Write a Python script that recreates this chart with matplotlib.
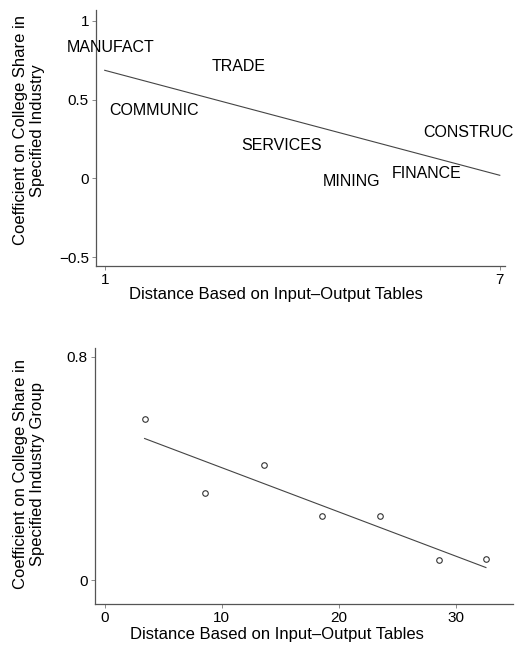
import numpy as np
import matplotlib
matplotlib.use("Agg")
import matplotlib.pyplot as plt

plt.rcParams["font.family"] = ["Liberation Sans", "DejaVu Sans"]

# top panel: industry labels placed at (distance, coefficient)
industries = ["MANUFACT", "TRADE", "COMMUNIC", "SERVICES", "MINING", "FINANCE", "CONSTRUC"]
ind_dist = [1.09, 3.03, 1.75, 3.69, 4.75, 5.89, 6.52]
ind_coef = [0.83, 0.71, 0.43, 0.21, -0.02, 0.03, 0.29]
top_fit_x = [1, 7]
top_fit_y = [0.686, 0.02]

# bottom panel: industry groups binned by distance
grp_dist = [3.4, 8.6, 13.6, 18.6, 23.5, 28.6, 32.6]
grp_coef = [0.577, 0.312, 0.412, 0.228, 0.228, 0.072, 0.076]
bot_fit_x = [3.4, 32.6]
bot_fit_y = [0.507, 0.045]

XLAB = "Distance Based on Input\u2013Output Tables"
FS = 11
LFS = 12


def style(ax):
    for s in ["top", "right"]:
        ax.spines[s].set_visible(False)
    for s in ["left", "bottom"]:
        ax.spines[s].set_color("#555555")
        ax.spines[s].set_linewidth(0.9)
    ax.tick_params(direction="out", length=3, width=0.6, color="#777777",
                   labelsize=FS, pad=2)


fig = plt.figure(figsize=(5.18, 6.51), dpi=100)

ax1 = fig.add_axes([0.185, 0.591, 0.79, 0.394])
for name, x, y in zip(industries, ind_dist, ind_coef):
    ax1.text(x, y, name, ha="center", va="center", fontsize=11.5)
ax1.plot(top_fit_x, top_fit_y, color="#444444", lw=0.8)
ax1.set_xlim(0.865, 7.08)
ax1.set_ylim(-0.557, 1.07)
ax1.set_xticks([1, 7])
ax1.set_yticks([-0.5, 0, 0.5, 1])
ax1.set_yticklabels(["\u22120.5", "0", "0.5", "1"])
ax1.set_xlabel(XLAB, fontsize=LFS, labelpad=1)
ax1.xaxis.set_label_coords(0.44, -0.08)
ax1.set_ylabel("Coefficient on College Share in\nSpecified Industry", fontsize=LFS)
ax1.yaxis.set_label_coords(-0.123, 0.53)
style(ax1)

ax2 = fig.add_axes([0.183, 0.072, 0.807, 0.393])
ax2.plot(grp_dist, grp_coef, "o", mfc="none", mec="#333333", ms=4, mew=0.8)
ax2.plot(bot_fit_x, bot_fit_y, color="#444444", lw=0.8)
ax2.set_xlim(-0.86, 34.9)
ax2.set_ylim(-0.086, 0.83)
ax2.set_xticks([0, 10, 20, 30])
ax2.set_yticks([0, 0.8])
ax2.set_yticklabels(["0", "0.8"])
ax2.set_xlabel(XLAB, fontsize=LFS)
ax2.xaxis.set_label_coords(0.435, -0.09)
ax2.set_ylabel("Coefficient on College Share in\nSpecified Industry Group", fontsize=LFS)
ax2.yaxis.set_label_coords(-0.118, 0.51)
style(ax2)

fig.savefig("out.png", dpi=100)
